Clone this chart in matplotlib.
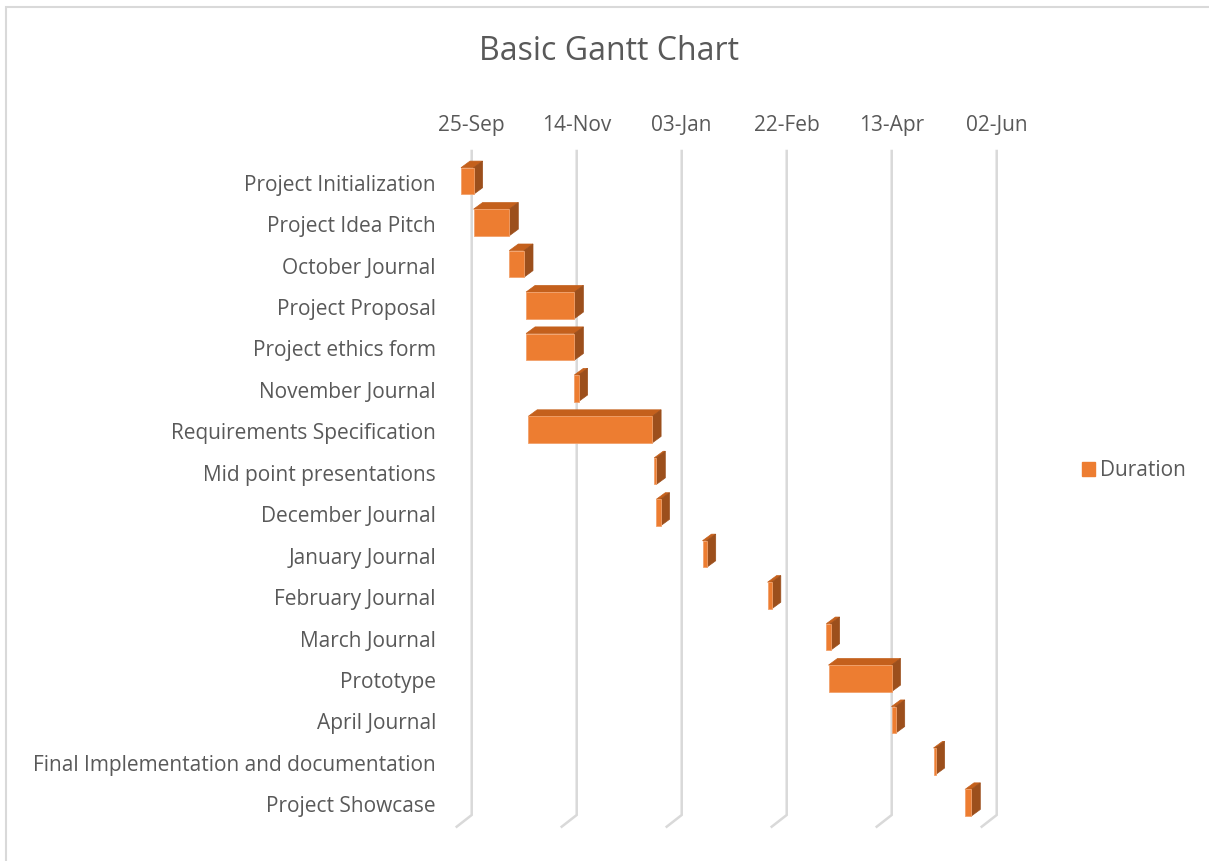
""" Basic Gantt chart, 3D-bar look, drawn with matplotlib """

import numpy as np
import pandas as pd
import matplotlib
matplotlib.use('Agg')
import matplotlib.pyplot as plt
from matplotlib.patches import Polygon, Rectangle, Patch

plt.rcParams['font.family'] = ['Open Sans', 'DejaVu Sans']

# Data
tasks = ['Project Initialization', 'Project Idea Pitch', 'October Journal',
         'Project Proposal', 'Project ethics form', 'November Journal',
         'Requirements Specification', 'Mid point presentations',
         'December Journal', 'January Journal', 'February Journal',
         'March Journal', 'Prototype', 'April Journal',
         'Final Implementation and documentation', 'Project Showcase']
start_dates = ['2017-09-25', '2017-10-01', '2017-10-18', '2017-10-26',
               '2017-10-26', '2017-11-18', '2017-10-27', '2017-12-26',
               '2017-12-27', '2018-01-18', '2018-02-18', '2018-03-18',
               '2018-03-19', '2018-04-18', '2018-05-08', '2018-05-23']
durations = [6, 17, 7, 23, 23, 2, 59, 1, 2, 2, 2, 2, 30, 2, 1, 3]
tick_dates = ['2017-09-25', '2017-11-14', '2018-01-03',
              '2018-02-22', '2018-04-13', '2018-06-02']

origin = pd.Timestamp(tick_dates[0])
starts = np.array([(pd.Timestamp(s) - origin).days for s in start_dates], float)
durs = np.array(durations, float)
ticks = np.array([(pd.Timestamp(t) - origin).days for t in tick_dates], float)
tick_labels = [pd.Timestamp(t).strftime('%d-%b') for t in tick_dates]

# Styles
txt_col = '#595959'
grid_col = '#d9d9d9'
c_front = '#ED7D31'
c_top = '#C4601C'
c_side = '#9C4F1C'
fs = 15.0

W, H = 1209, 861
fig = plt.figure(figsize=(W / 100, H / 100), dpi=100)

# pixel geometry of the plot area
px_per_day = 2.1
x0_px = 461.0            # front face of day 0
row0_px = 181.0          # center of first row
row_px = 41.45           # row spacing
xmin, xmax = -14, 280
ymin, ymax = 16.0, -1.5  # inverted rows
L = x0_px + xmin * px_per_day
R = x0_px + xmax * px_per_day
T = row0_px + ymax * row_px
B = row0_px + ymin * row_px
ax = fig.add_axes([L / W, 1 - B / H, (R - L) / W, (B - T) / H])
ax.set_xlim(xmin, xmax)
ax.set_ylim(ymin, ymax)
ax.axis('off')

# chart-area border
fig.patches.append(Rectangle((6 / W, -0.1), 1.2, 1 - 7 / H + 0.1,
                             transform=fig.transFigure, fill=False,
                             edgecolor=grid_col, lw=1.5))

# depth offsets (in data units)
back_dx = 10.7 / px_per_day
floor_dx = -4.3 / px_per_day
grid_top = (151 - row0_px) / row_px
grid_bot = (815 - row0_px) / row_px
floor_y = (826.7 - row0_px) / row_px
bar_dx = 9.0 / px_per_day
bar_dy = -6.6 / row_px
bar_h = 26.6 / row_px

# back wall gridlines + floor
for t in ticks:
    ax.plot([t + back_dx, t + back_dx, t + floor_dx],
            [grid_top, grid_bot, floor_y], color=grid_col, lw=1.8,
            solid_joinstyle='miter', zorder=1, clip_on=False)

# 3D bars
for i, (s, d) in enumerate(zip(starts, durs)):
    top = i - bar_h / 2
    bot = i + bar_h / 2
    e = s + d
    top_face = Polygon([(s, top), (e, top), (e + bar_dx, top + bar_dy),
                        (s + bar_dx, top + bar_dy)], closed=True,
                       facecolor=c_top, edgecolor=c_top, lw=0.5, zorder=3 + i)
    side_face = Polygon([(e, top), (e + bar_dx, top + bar_dy),
                         (e + bar_dx, bot + bar_dy), (e, bot)], closed=True,
                        facecolor=c_side, edgecolor=c_side, lw=0.5, zorder=3 + i)
    front = Rectangle((s, top), d, bar_h, facecolor=c_front,
                      edgecolor='#F2A16B', lw=0.6, zorder=3.5 + i)
    ax.add_patch(top_face)
    ax.add_patch(side_face)
    ax.add_patch(front)

# category labels
label_x = (436 - x0_px) / px_per_day
for i, name in enumerate(tasks):
    ax.text(label_x, i + 0.1, name, ha='right', va='center',
            fontsize=fs, color=txt_col)

# date labels across the top
tick_y = (125 - row0_px) / row_px
for t, lab in zip(ticks, tick_labels):
    ax.text(t + back_dx, tick_y, lab, ha='center', va='center',
            fontsize=fs, color=txt_col)

fig.text(609 / W, 1 - 52 / H, 'Basic Gantt Chart', ha='center', va='center',
         fontsize=23, color=txt_col)

fig.legend(handles=[Patch(facecolor=c_front, edgecolor=c_front)],
           labels=['Duration'], loc='center left',
           bbox_to_anchor=(1063 / W, 1 - 471 / H), frameon=False,
           fontsize=fs, labelcolor=txt_col, handlelength=0.65,
           handleheight=0.62, handletextpad=0.25)

fig.savefig('out.png', dpi=100)
